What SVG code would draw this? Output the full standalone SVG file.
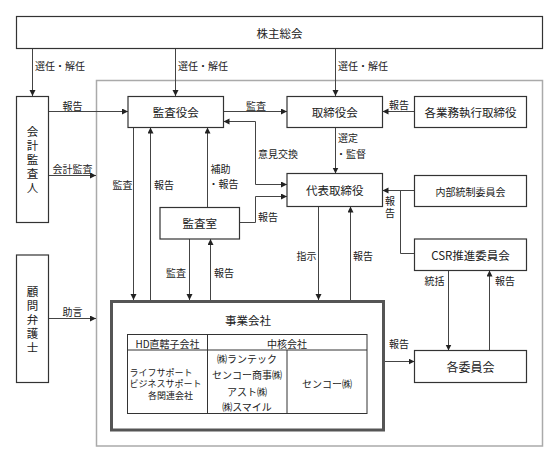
<svg xmlns="http://www.w3.org/2000/svg" width="558" height="462" viewBox="0 0 558 462">
<defs>
<marker id="ah" markerUnits="userSpaceOnUse" markerWidth="7" markerHeight="7" refX="6" refY="3" orient="auto">
<path d="M0,0 L6,3 L0,6 z" fill="#222"/>
</marker>
<style>
text{font-family:"Noto Sans CJK JP","Noto Sans",sans-serif;fill:#222;dominant-baseline:central}
.box{fill:#fff;stroke:#333;stroke-width:1.2}
.t{font-size:11.5px;text-anchor:middle}
.s{font-size:10px}
.c{text-anchor:middle}
.v{writing-mode:vertical-rl;text-anchor:middle}
.ln{fill:none;stroke:#444;stroke-width:1}
.ar{marker-end:url(#ah)}
</style>
</defs>
<rect x="0" y="0" width="558" height="462" fill="#fff"/>
<rect id="group-frame" x="96.5" y="80.5" width="446" height="365.5" fill="none" stroke="#aaa" stroke-width="1.5"/>

<g id="connectors">
<path class="ln ar" d="M32.5,48.5 V96"/>
<path class="ln ar" d="M175.5,48.5 V96"/>
<path class="ln ar" d="M335.5,48.5 V96"/>
<path class="ln ar" d="M48.5,111.5 H128"/>
<path class="ln ar" d="M48.5,175.5 H96"/>
<path class="ln ar" d="M48.5,318.5 H96"/>
<path class="ln ar" d="M223.5,111.5 H287"/>
<path class="ln ar" d="M414.5,111.5 H382.5"/>
<path class="ln ar" d="M335.5,127.5 V173.5"/>
<path class="ln ar" d="M255.5,184.5 H287"/>
<path class="ln ar" d="M255.5,184.5 V121.5 H223.5"/>
<path class="ln ar" d="M239.5,222.5 H255.5 V196.5 H287"/>
<path class="ln ar" d="M207.5,207.5 V127.5"/>
<path class="ln ar" d="M133.5,127.5 V300"/>
<path class="ln ar" d="M150.5,300 V127.5"/>
<path class="ln ar" d="M189.5,239 V300"/>
<path class="ln ar" d="M210.5,300 V239"/>
<path class="ln ar" d="M318.5,206.5 V300"/>
<path class="ln ar" d="M350.5,300 V206.5"/>
<path class="ln ar" d="M414.5,190.5 H382.5"/>
<path class="ln" d="M414.5,253.5 H400.5 V190.5"/>
<path class="ln ar" d="M448.5,270.5 V350.5"/>
<path class="ln ar" d="M489.5,350.5 V270.5"/>
<path class="ln ar" d="M385,361.5 H414.5"/>

<text class="s" x="35" y="65">選任・解任</text>
<text class="s" x="178" y="65">選任・解任</text>
<text class="s" x="338" y="65">選任・解任</text>
<text class="s c" x="72.5" y="105">報告</text>
<text class="s c" x="72.5" y="168.5">会計監査</text>
<text class="s c" x="72.5" y="311">助言</text>
<text class="s c" x="256" y="105">監査</text>
<text class="s c" x="399" y="104.5">報告</text>
<text class="s" x="338" y="137">選定</text>
<text class="s" x="336" y="153">・監督</text>
<text class="s" x="258" y="153">意見交換</text>
<text class="s" x="258" y="216">報告</text>
<text class="s" x="210.5" y="168.5">補助</text>
<text class="s" x="208.5" y="183.5">・報告</text>
<text class="s c" x="122.5" y="184">監査</text>
<text class="s c" x="164" y="184">報告</text>
<text class="s c" x="176" y="272">監査</text>
<text class="s c" x="224" y="272">報告</text>
<text class="s c" x="306.5" y="255">指示</text>
<text class="s c" x="363" y="255">報告</text>
<text class="s v" x="390" y="208" style="letter-spacing:1.5px">報告</text>
<text class="s c" x="434.5" y="280">統括</text>
<text class="s c" x="505" y="280">報告</text>
<text class="s c" x="399" y="343.5">報告</text>
</g>

<g id="shareholders">
<rect class="box" x="16.5" y="16.5" width="526" height="32"/>
<text class="t" x="279.5" y="33">株主総会</text>
</g>
<g id="accounting-auditor">
<rect class="box" x="16.5" y="96.5" width="32" height="126"/>
<text class="t v" x="32.5" y="161" style="letter-spacing:2.5px">会計監査人</text>
</g>
<g id="lawyer">
<rect class="box" x="16.5" y="255" width="32" height="127.5"/>
<text class="t v" x="32.5" y="321" style="letter-spacing:2.5px">顧問弁護士</text>
</g>
<g id="audit-board">
<rect class="box" x="128" y="96.5" width="95.5" height="31"/>
<text class="t" x="175.7" y="112">監査役会</text>
</g>
<g id="board">
<rect class="box" x="287" y="96.5" width="95.5" height="31"/>
<text class="t" x="334.7" y="112">取締役会</text>
</g>
<g id="executive-directors">
<rect class="box" x="414.5" y="96.5" width="112" height="31"/>
<text class="t" x="470.5" y="112">各業務執行取締役</text>
</g>
<g id="representative">
<rect class="box" x="287" y="173.5" width="95.5" height="33"/>
<text class="t" x="334.7" y="190">代表取締役</text>
</g>
<g id="internal-control">
<rect class="box" x="414.5" y="175.5" width="112" height="31"/>
<text class="s c" x="470.5" y="191">内部統制委員会</text>
</g>
<g id="audit-office">
<rect class="box" x="160" y="207.5" width="79.5" height="31.5"/>
<text class="t" x="199.7" y="223">監査室</text>
</g>
<g id="csr">
<rect class="box" x="414.5" y="239" width="112" height="31.5"/>
<text class="t" x="470.5" y="255">CSR推進委員会</text>
</g>
<g id="committees">
<rect class="box" x="414.5" y="350.5" width="112" height="32"/>
<text class="t" x="470.5" y="366.5" style="font-size:12px">各委員会</text>
</g>
<g id="operating-companies">
<rect x="111.5" y="301.5" width="272" height="128.5" fill="#fff" stroke="#555" stroke-width="3"/>
<text class="t" x="248" y="319.5">事業会社</text>
<rect x="127.5" y="334.5" width="239.5" height="79" fill="none" stroke="#333" stroke-width="1"/>
<path d="M127.5,350 H367 M207.5,334.5 V413.5 M287,350 V413.5" fill="none" stroke="#333" stroke-width="1"/>
<text class="s c" x="167.5" y="343">HD直轄子会社</text>
<text class="s c" x="287" y="343">中核会社</text>
<text style="font-size:9px"><tspan x="129.5" y="371.5">ライフサポート</tspan><tspan x="129.5" y="383">ビジネスサポート</tspan><tspan x="148" y="394.5">各関連会社</tspan></text>
<text class="s c" x="247" y="358.5">㈱ランテック</text>
<text class="s c" x="247" y="374.5">センコー商事㈱</text>
<text class="s c" x="247" y="391">アスト㈱</text>
<text class="s c" x="247" y="406.5">㈱スマイル</text>
<text class="s c" x="327" y="383.5">センコー㈱</text>
</g>
</svg>
